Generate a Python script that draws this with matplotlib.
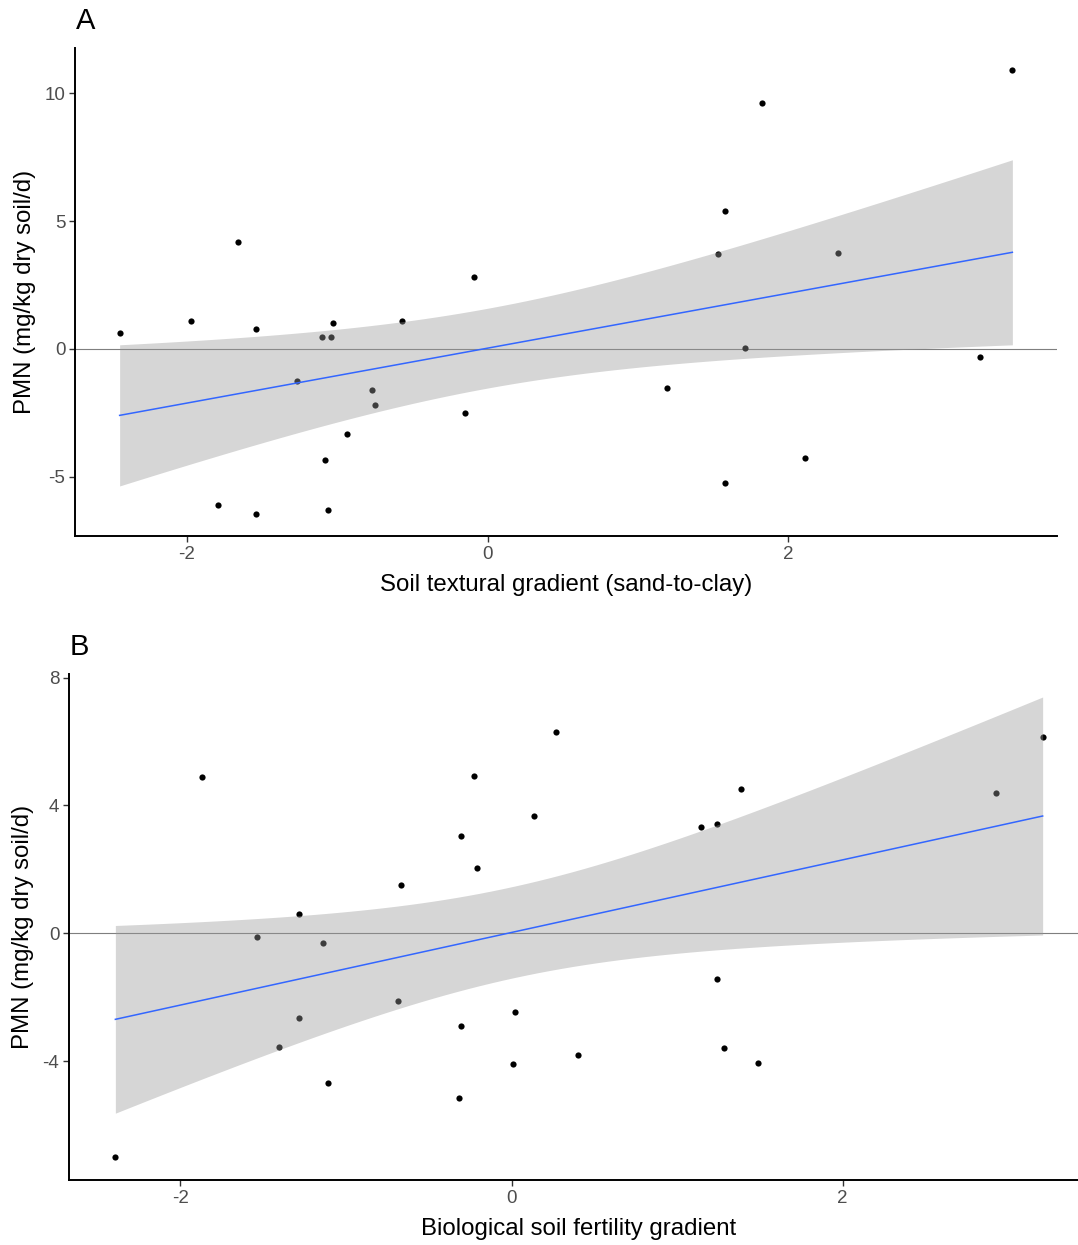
import numpy as np
import matplotlib
matplotlib.use('Agg')
import matplotlib.pyplot as plt

plt.rcParams['font.family'] = ['Liberation Sans', 'DejaVu Sans']
plt.rcParams['axes.unicode_minus'] = False

# panel A: soil textural gradient
tex_x = [-2.445, -1.973, -1.794, -1.661, -1.542, -1.542, -1.269, -1.103, -1.043, -1.030,
         -1.083, -1.063, -0.937, -0.771, -0.751, -0.571, -0.153, -0.093, 1.196, 1.535,
         1.581, 1.575, 1.714, 1.821, 2.113, 2.326, 3.276, 3.488]
tex_y = [0.62, 1.09, -6.09, 4.18, 0.78, -6.45, -1.25, 0.47, 0.47, 1.02,
         -4.34, -6.29, -3.32, -1.60, -2.19, 1.09, -2.50, 2.81, -1.52, 3.71,
         5.39, -5.23, 0.04, 9.61, -4.26, 3.75, -0.31, 10.90]

# panel B: biological soil fertility gradient
bio_x = [-2.393, -1.867, -1.535, -1.402, -1.281, -1.281, -1.136, -1.106, -0.683, -0.665,
         -0.320, -0.308, -0.308, -0.224, -0.211, 0.006, 0.018, 0.133, 0.266, 0.399,
         1.142, 1.239, 1.239, 1.281, 1.384, 1.486, 2.924, 3.208]
bio_y = [-7.00, 4.88, -0.13, -3.56, 0.59, -2.66, -0.31, -4.69, -2.13, 1.50,
         -5.16, 3.03, -2.91, 4.91, 2.03, -4.09, -2.47, 3.66, 6.31, -3.81,
         3.34, 3.41, -1.44, -3.59, 4.53, -4.06, 4.40, 6.15]

T975 = 2.0555  # t quantile, df = 26


def lm_band(x, y, n=80):
    x = np.asarray(x)
    y = np.asarray(y)
    b, a = np.polyfit(x, y, 1)
    resid = y - (a + b * x)
    s = np.sqrt(np.sum(resid ** 2) / (len(x) - 2))
    xs = np.linspace(x.min(), x.max(), n)
    se = s * np.sqrt(1.0 / len(x) + (xs - x.mean()) ** 2 / np.sum((x - x.mean()) ** 2))
    fit = a + b * xs
    return xs, fit, fit - T975 * se, fit + T975 * se


def panel(ax, x, y, xlabel, tag, yticks):
    ax.axhline(0, color='#7f7f7f', lw=0.8, zorder=1)
    ax.scatter(x, y, s=20, color='black', linewidths=0, zorder=2)
    xs, fit, lo, hi = lm_band(x, y)
    ax.fill_between(xs, lo, hi, color='#999999', alpha=0.4, lw=0, zorder=3)
    ax.plot(xs, fit, color='#3366FF', lw=1.1, zorder=4)
    # ggplot-style 5% expansion including the ribbon
    x0, x1 = min(x), max(x)
    y0, y1 = min(min(y), lo.min()), max(max(y), hi.max())
    ax.set_xlim(x0 - 0.05 * (x1 - x0), x1 + 0.05 * (x1 - x0))
    ax.set_ylim(y0 - 0.05 * (y1 - y0), y1 + 0.05 * (y1 - y0))
    ax.set_xticks([-2, 0, 2])
    ax.set_yticks(yticks)
    for s in ['top', 'right']:
        ax.spines[s].set_visible(False)
    for s in ['left', 'bottom']:
        ax.spines[s].set_linewidth(1.4)
        ax.spines[s].set_color('black')
    ax.tick_params(length=4, width=1.0, color='#333333', labelcolor='#4D4D4D',
                   labelsize=13.5, pad=3)
    ax.set_xlabel(xlabel, fontsize=17.3, color='black', labelpad=8)
    ax.set_ylabel('PMN (mg/kg dry soil/d)', fontsize=17.3, color='black', labelpad=6)
    ax.annotate(tag, xy=(0, 1), xycoords='axes fraction', xytext=(0.5, 13.5),
                textcoords='offset points', fontsize=21, ha='left', va='baseline')


fig = plt.figure(figsize=(10.78, 12.45), dpi=100)
W, H = 1078.0, 1245.0
axA = fig.add_axes([75 / W, 1 - 536 / H, (1057 - 75) / W, (536 - 48) / H])
axB = fig.add_axes([69 / W, 1 - 1180 / H, (1089 - 69) / W, (1180 - 674) / H])

panel(axA, tex_x, tex_y, 'Soil textural gradient (sand-to-clay)', 'A', [-5, 0, 5, 10])
panel(axB, bio_x, bio_y, 'Biological soil fertility gradient', 'B', [-4, 0, 4, 8])

fig.savefig('out.png', dpi=100)
